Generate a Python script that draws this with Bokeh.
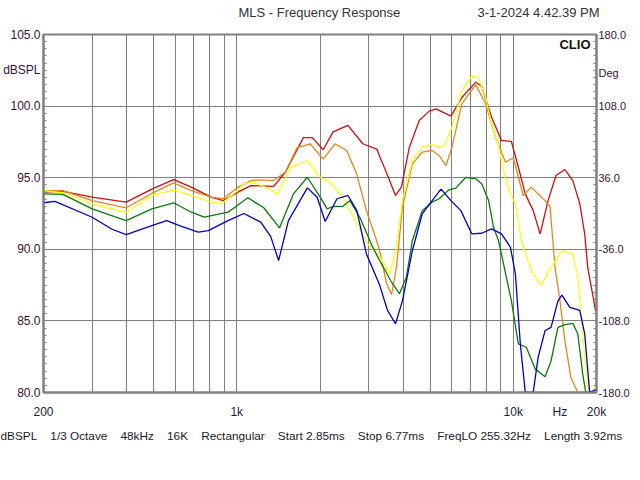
from bokeh.plotting import figure
from bokeh.models import (Range1d, LinearAxis, FixedTicker, Label, Title, LinearScale)
from bokeh.embed import file_html
from bokeh.resources import INLINE

# ---- axis definitions ----
FREQ_TICKS = [200, 1000, 10000, 14750, 20000]
FREQ_TICK_LABELS = {200: "200", 1000: "1k", 10000: "10k", 14750: "Hz", 20000: "20k"}
FREQ_GRID = [300, 400, 500, 600, 700, 800, 900, 1000, 2000, 3000, 4000, 5000,
             6000, 7000, 8000, 9000, 10000]
SPL_TICKS = [80, 85, 90, 95, 100, 102.5, 105]
SPL_TICK_LABELS = {80: "80.0", 85: "85.0", 90: "90.0", 95: "95.0", 100: "100.0",
                   102.5: "dBSPL", 105: "105.0"}
SPL_GRID = [85, 90, 95, 100]
DEG_TICKS = [-180, -108, -36, 36, 108, 140.8, 180]
DEG_TICK_LABELS = {-180: "-180.0", -108: "-108.0", -36: "-36.0", 36: "36.0",
                   108: "108.0", 140.8: "Deg", 180: "180.0"}

TITLE = "MLS - Frequency Response"
DATE = "3-1-2024 4.42.39 PM"
INFO = ["dBSPL", "1/3 Octave", "48kHz", "16K", "Rectangular", "Start 2.85ms",
        "Stop 6.77ms", "FreqLO 255.32Hz", "Length 3.92ms"]

# ---- series (Hz, dBSPL) ----
red_freq = [200, 235, 300, 398, 493, 591, 685, 808, 893, 1010, 1124, 1360, 1501, 1741,
            1876, 2054, 2230, 2524, 2856, 3206, 3370, 3570, 3751, 3940, 4210, 4571, 4964,
            5259, 5952, 6517, 7315, 7687, 8348, 9067, 9846, 10432, 11052, 11806, 12508,
            13361, 14272, 15373, 16421, 17398, 18130, 18584, 19850]
red_db = [94.0, 94.05, 93.65, 93.3, 94.2, 94.87, 94.34, 93.64, 93.4, 93.99, 94.45, 94.4, 95.4, 97.8,
          97.8, 96.95, 98.2, 98.65, 97.37, 97.0, 96.0, 94.8, 93.76, 94.34, 97.13, 99.0, 99.65,
          99.81, 99.3, 100.6, 101.67, 101.4, 99.22, 97.6, 97.53, 95.73, 93.87, 92.7, 91.08,
          93.4, 95.15, 95.57, 94.8, 93.18, 91.08, 88.75, 85.7]

orange_freq = [200, 235, 300, 398, 493, 591, 685, 808, 893, 1010, 1124, 1221, 1360, 1501,
               1653, 1845, 2054, 2268, 2498, 2713, 2944, 3206, 3287, 3483, 3629, 3782, 3973,
               4315, 4686, 5088, 5391, 5712, 6001, 6517, 7315, 7944, 8628, 9371, 10010, 10432,
               10871, 11613, 13035, 13582, 14155, 14751, 15373, 16152, 17113, 18584]
orange_db = [94.1, 94.1, 93.4, 92.9, 93.9, 94.64, 94.1, 93.64, 93.53, 94.34, 94.8, 94.85, 94.8, 95.4,
             97.1, 97.37, 96.3, 97.37, 96.9, 95.27, 92.7, 90.6, 89.9, 87.59, 86.84, 88.75, 92.94,
             95.97, 96.78, 96.9, 96.55, 95.85, 97.13, 100.16, 101.5, 100.16, 97.83, 96.08, 96.39, 95.03,
             93.76, 94.34, 93.4, 93.0, 88.75, 86.4, 83.6, 81.07, 80.0, 80.0]

yellow_freq = [200, 235, 300, 398, 493, 591, 685, 808, 878, 1010, 1061, 1150, 1252, 1405,
               1565, 1800, 2003, 2176, 2422, 2718, 2977, 3287, 3570, 3782, 3973, 4315, 4686,
               5088, 5391, 5618, 6001, 6517, 7078, 7499, 7944, 8348, 8845, 9217, 9765, 10177,
               10693, 11613, 12612, 13696, 15121, 16421, 17113, 17833, 18584, 19367, 19852]
yellow_db = [94.1, 93.95, 93.18, 92.57, 93.76, 94.15, 93.76, 93.29, 93.18, 94.1, 94.6, 94.65, 94.4, 93.87,
             95.7, 96.2, 95.03, 94.7, 93.64, 91.78, 90.38, 89.45, 88.29, 90.15, 93.4, 96.2, 97.13,
             97.32, 97.13, 97.25, 98.53, 101.1, 102.1, 101.97, 100.6, 98.76, 97.25, 95.5, 93.87, 93.18,
             90.6, 88.5, 87.5, 88.75, 89.9, 89.68, 88.05, 84.1, 80.37, 80.0, 80.4]

green_freq = [200, 235, 300, 398, 493, 591, 685, 763, 930, 1097, 1252, 1428, 1603, 1800,
              2003, 2122, 2230, 2422, 2566, 2786, 3102, 3287, 3629, 3876, 4107, 4315, 4686,
              5088, 5391, 5854, 6202, 6735, 7315, 7687, 8144, 8486, 8845, 9217, 9846, 10432,
              11144, 12003, 13035, 13696, 14510, 15373, 16421, 17113, 17833, 18280, 19689]
green_db = [93.87, 93.83, 92.82, 92.0, 92.82, 93.25, 92.59, 92.24, 92.59, 93.6, 92.9, 91.5, 93.87, 95.03,
            93.64, 92.82, 92.99, 93.0, 93.4, 92.24, 90.15, 89.22, 87.7, 86.9, 88.05, 90.6, 92.7,
            93.29, 93.53, 94.15, 94.27, 95.03, 94.92, 94.57, 93.4, 91.54, 90.6, 89.0, 86.4, 83.4,
            83.16, 81.65, 81.1, 82.2, 84.55, 84.74, 84.83, 84.1, 81.3, 80.0, 80.0]

blue_freq = [200, 220, 300, 354, 398, 493, 558, 631, 726, 789, 930, 1061, 1221, 1326, 1417,
             1538, 1800, 1954, 2088, 2304, 2524, 2718, 2944, 3287, 3510, 3751, 3973, 4315,
             4686, 5088, 5482, 5952, 6463, 7078, 7687, 8348, 9067, 9765, 10177, 10605, 11052,
             11806, 12304, 13035, 13696, 14510, 14997, 16020, 17398, 18130, 18893, 19852]
blue_db = [93.25, 93.35, 92.24, 91.4, 91.03, 91.66, 92.0, 91.6, 91.2, 91.3, 92.0, 92.5, 91.9, 90.9, 89.22,
           92.0, 94.29, 93.64, 91.94, 93.53, 93.76, 92.7, 89.68, 87.5, 85.73, 84.8, 86.4, 89.9,
           92.48, 93.4, 94.2, 93.4, 92.7, 91.08, 91.12, 91.43, 91.08, 90.15, 88.29, 83.4, 80.0,
           80.0, 82.47, 84.33, 84.55, 86.4, 86.8, 85.95, 85.73, 84.1, 80.0, 80.2]

SERIES = [
    (red_freq, red_db, "#cc1010"),
    (orange_freq, orange_db, "#e8861c"),
    (yellow_freq, yellow_db, "#ffff10"),
    (green_freq, green_db, "#0a7a0a"),
    (blue_freq, blue_db, "#0000c8"),
]

GRID_COLOR = "#808080"
NUM_COLOR = "#3a0f3a"
FONT = "Liberation Sans"

p = figure(width=632, height=464, x_axis_type="log",
           x_range=Range1d(200, 20000), y_range=Range1d(80, 105),
           output_backend="svg", toolbar_location=None,
           min_border_left=40, min_border_right=33, min_border_top=34, min_border_bottom=72)
p.background_fill_color = "white"
p.border_fill_color = "white"
p.outline_line_color = GRID_COLOR
p.outline_line_width = 2

# grids
p.xgrid.ticker = FixedTicker(ticks=FREQ_GRID)
p.ygrid.ticker = FixedTicker(ticks=SPL_GRID)
for g in (p.xgrid, p.ygrid):
    g.grid_line_color = GRID_COLOR
    g.grid_line_alpha = 1.0
    g.grid_line_width = 1

# bottom axis
xa = p.xaxis[0]
xa.ticker = FixedTicker(ticks=FREQ_TICKS)
xa.major_label_overrides = dict(FREQ_TICK_LABELS)
xa.major_tick_in = 0
xa.major_tick_out = 0
xa.minor_tick_in = 0
xa.minor_tick_out = 0
xa.axis_line_color = GRID_COLOR
xa.axis_line_width = 2
xa.major_label_standoff = 12
xa.major_label_text_font = FONT
xa.major_label_text_font_size = "12px"
xa.major_label_text_color = "#1a1a3a"

# left axis
spl_minor = [80 + 0.5 * i for i in range(51)]
ya = p.yaxis[0]
ya.ticker = FixedTicker(ticks=SPL_TICKS, minor_ticks=spl_minor)
ya.major_label_overrides = dict(SPL_TICK_LABELS)
ya.major_tick_in = 0
ya.major_tick_out = 0
ya.minor_tick_in = 3
ya.minor_tick_out = 0
ya.minor_tick_line_color = GRID_COLOR
ya.axis_line_color = GRID_COLOR
ya.axis_line_width = 2
ya.major_label_standoff = 3
ya.major_label_text_font = FONT
ya.major_label_text_font_size = "12px"
ya.major_label_text_color = NUM_COLOR

# right axis (degrees)
p.extra_y_ranges = {"deg": Range1d(-180, 180)}
deg_minor = [-180 + 7.2 * i for i in range(51)]
ra = LinearAxis(y_range_name="deg",
                ticker=FixedTicker(ticks=DEG_TICKS, minor_ticks=deg_minor),
                major_label_overrides=dict(DEG_TICK_LABELS))
ra.major_tick_in = 0
ra.major_tick_out = 0
ra.minor_tick_in = 3
ra.minor_tick_out = 0
ra.minor_tick_line_color = GRID_COLOR
ra.axis_line_color = GRID_COLOR
ra.axis_line_width = 2
ra.major_label_standoff = 2
ra.major_label_text_font = FONT
ra.major_label_text_font_size = "11px"
ra.major_label_text_color = NUM_COLOR
p.add_layout(ra, "right")

# header line: an axis above the frame in pixel-like units of the picture
p.extra_x_ranges = {"px": Range1d(40.7, 598.5)}
p.extra_x_scales = {"px": LinearScale()}
ta = LinearAxis(x_range_name="px", ticker=FixedTicker(ticks=[319, 540]),
                major_label_overrides={319: TITLE, 540: DATE})
ta.axis_line_color = None
ta.major_tick_in = 0
ta.major_tick_out = 0
ta.minor_tick_in = 0
ta.minor_tick_out = 0
ta.major_label_standoff = 15
ta.major_label_text_font = FONT
ta.major_label_text_font_size = "13px"
ta.major_label_text_color = "#333333"
p.add_layout(ta, "above")

# footer line with acquisition settings
GAP = "\u00a0\u00a0\u00a0 "
p.add_layout(Title(text=GAP.join(INFO), align="left", offset=-43, standoff=12,
                   vertical_align="middle", text_font=FONT, text_font_size="11.8px",
                   text_font_style="normal", text_color="#1a1a2a"), "below")

# curves
for fx, db, col in SERIES:
    p.line(fx, db, line_color=col, line_width=1.3)

# CLIO mark inside the frame (screen units relative to the frame)
p.add_layout(Label(x=547, y=348, x_units="screen", y_units="screen", text="CLIO",
                   text_align="right", text_baseline="middle", text_font=FONT,
                   text_font_size="13px", text_color="#111111", text_font_style="bold"))

open("out.html", "w").write(file_html(p, INLINE))
